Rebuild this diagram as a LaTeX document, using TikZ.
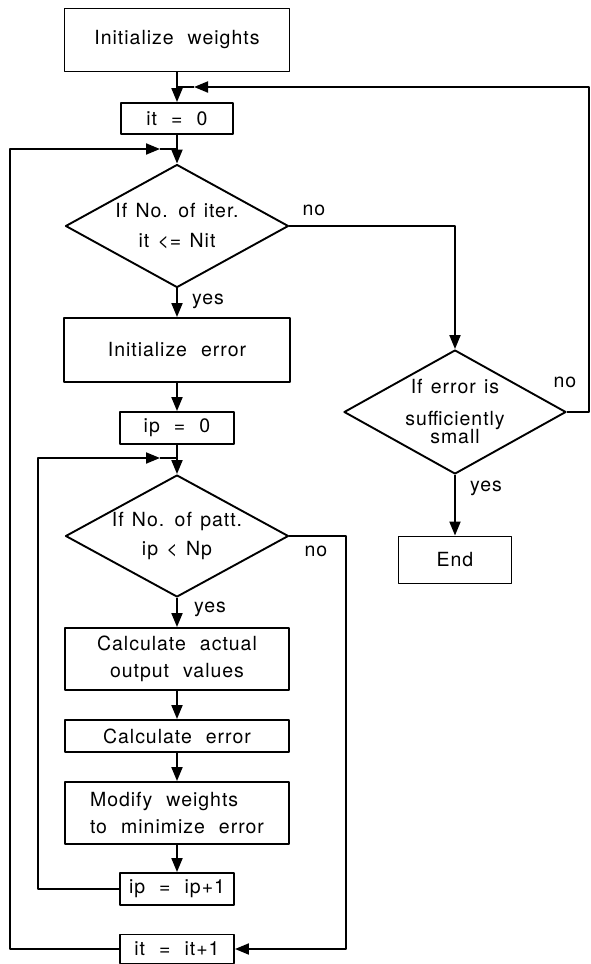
\documentclass[tikz,border=0pt]{standalone}
\usepackage{fontspec}
\setmainfont{TeX Gyre Heros}[LetterSpace=5, WordSpace=2.2]
\newfontfamily\condfont{TeX Gyre Heros}[LetterSpace=5, WordSpace=1.3]
\usetikzlibrary{shapes.geometric,arrows.meta}
\begin{document}
\begin{tikzpicture}[x=1pt, y=-1pt, font=\fontsize{19.5}{27}\selectfont, line width=1.9pt, line join=round, >={Triangle[length=14pt,width=11pt]},
	box/.style={draw, rectangle, inner sep=0pt, align=center},
	cond/.style={draw, diamond, shape aspect=1.8, inner sep=0pt, align=center, font=\condfont\fontsize{19.5}{27}\selectfont},
	lbl/.style={inner sep=0pt}]
	\useasboundingbox (0,0) rectangle (590,964);
	% main column
	\node[box, minimum width=225, minimum height=63] (initw) at (177,40) {Initialize weights};
	\node[box, minimum width=112, minimum height=31] (it0) at (177,118.5) {it = 0};
	\node[cond, minimum width=223, minimum height=123] (iter) at (177,226) {If No. of iter.\\[3pt] it <= Nit};
	\node[box, minimum width=226, minimum height=64] (initerr) at (177,350) {Initialize error};
	\node[box, minimum width=114, minimum height=32] (ip0) at (177,428) {ip = 0};
	\node[cond, minimum width=223, minimum height=122] (patt) at (177,536) {If No. of patt.\\[2pt] ip < Np};
	\node[box, minimum width=224, minimum height=62] (calcout) at (177,659) {Calculate actual\\output values};
	\node[box, minimum width=224, minimum height=32] (calcerr) at (177,736) {Calculate error};
	\node[box, minimum width=224, minimum height=62, align=left] (modify) at (177,813) {Modify weights\\to minimize error};
	\node[box, minimum width=114, minimum height=32] (ipinc) at (177,889) {ip = ip+1};
	\node[box, minimum width=114, minimum height=29] (itinc) at (177,949) {it = it+1};
	% right column
	\node[cond, minimum width=222, minimum height=124] (small) at (455,412) {If error is\\[5pt] sufficiently\\[-9pt] small};
	\node[box, minimum width=113, minimum height=47] (done) at (455,560) {End};
	% labels
	\node[lbl] (no1) at (314,210) {no};
	\node[lbl] (yes1) at (208,301) {yes};
	\node[lbl] (no2) at (565,382) {no};
	\node[lbl] (yes2) at (486,488) {yes};
	\node[lbl] (no3) at (316,551) {no};
	\node[lbl] (yes3) at (210,609) {yes};
	% junctions
	\coordinate (fbR) at (589,87);
	\coordinate (fb) at (177,87);
	\coordinate (lp1) at (177,149);
	\coordinate (lpL) at (10,149);
	\coordinate (lp2) at (177,458);
	\coordinate (lpM) at (38,458);
	\coordinate (pattR) at (346,536);
	% connectors
	\draw[->] (initw) -- (it0);
	\draw[->] (it0) -- (iter.north);
	\draw[->] (iter) -- (initerr);
	\draw[->] (initerr) -- (ip0);
	\draw[->] (ip0) -- (patt.north);
	\draw[->] (patt) -- (calcout);
	\draw[->] (calcout) -- (calcerr);
	\draw[->] (calcerr) -- (modify);
	\draw[->] (modify) -- (ipinc);
	\draw[->] (iter.east) -| (small.north);
	\draw[->] (small) -- (done);
	\draw[->] (small.east) -- (fbR |- small.east) -- (fbR) -- ([xshift=17pt]fb);
	\draw ([xshift=17pt]fb) -- (fb);
	\draw[->] (ipinc.west) -| (lpM) -- ([xshift=-17pt]lp2);
	\draw ([xshift=-17pt]lp2) -- (lp2);
	\draw[->] (patt.east) -- (pattR) |- (itinc.east);
	\draw[->] (itinc.west) -| (lpL) -- ([xshift=-17pt]lp1);
	\draw ([xshift=-17pt]lp1) -- (lp1);
\end{tikzpicture}
\end{document}
